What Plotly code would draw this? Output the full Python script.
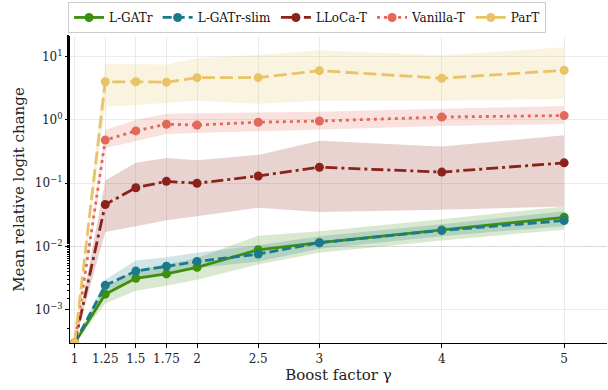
import plotly.graph_objects as go

# Boost factors
gamma = [1, 1.25, 1.5, 1.75, 2, 2.5, 3, 4, 5]

# Mean relative logit change per model, with lower/upper band
lgatr = [3.0e-4, 0.00177, 0.00316, 0.0037, 0.0047, 0.0089, 0.0115, 0.0182, 0.029]
lgatr_lo = [3.0e-4, 0.00126, 0.0020, 0.0024, 0.0030, 0.0052, 0.0080, 0.0125, 0.0185]
lgatr_hi = [3.0e-4, 0.0023, 0.0043, 0.0052, 0.0066, 0.0148, 0.0175, 0.027, 0.043]

slim = [3.0e-4, 0.00244, 0.0041, 0.0049, 0.0058, 0.0076, 0.0115, 0.018, 0.0257]
slim_lo = [3.0e-4, 0.0020, 0.0030, 0.0037, 0.0046, 0.0058, 0.0092, 0.0146, 0.021]
slim_hi = [3.0e-4, 0.0030, 0.0060, 0.0068, 0.0080, 0.0105, 0.0145, 0.0225, 0.036]

lloca = [3.0e-4, 0.046, 0.085, 0.107, 0.100, 0.130, 0.179, 0.150, 0.210]
lloca_lo = [3.0e-4, 0.017, 0.021, 0.026, 0.030, 0.041, 0.035, 0.038, 0.043]
lloca_hi = [3.0e-4, 0.11, 0.21, 0.25, 0.23, 0.28, 0.47, 0.38, 0.57]

vanilla = [3.0e-4, 0.48, 0.67, 0.855, 0.83, 0.92, 0.96, 1.11, 1.17]
vanilla_lo = [3.0e-4, 0.36, 0.46, 0.60, 0.62, 0.66, 0.71, 0.80, 0.86]
vanilla_hi = [3.0e-4, 0.70, 1.00, 1.25, 1.27, 1.30, 1.35, 1.50, 1.66]

part = [3.0e-4, 4.0, 4.0, 3.95, 4.65, 4.65, 6.0, 4.55, 6.08]
part_lo = [3.0e-4, 1.62, 1.72, 1.83, 2.0, 1.8, 2.0, 2.0, 2.15]
part_hi = [3.0e-4, 7.8, 7.6, 7.5, 9.4, 10.6, 12.6, 10.5, 14.0]

xtick_vals = [1, 1.25, 1.5, 1.75, 2, 2.5, 3, 4, 5]
xtick_text = ["1", "1.25", "1.5", "1.75", "2", "2.5", "3", "4", "5"]
ytick_vals = [1e-3, 1e-2, 1e-1, 1, 10]
ytick_text = ["10<sup>−3</sup>", "10<sup>−2</sup>", "10<sup>−1</sup>", "10<sup>0</sup>", "10<sup>1</sup>"]

series = [
    ("L-GATr", lgatr, lgatr_lo, lgatr_hi, (63, 143, 15), "solid"),
    ("L-GATr-slim", slim, slim_lo, slim_hi, (27, 122, 138), "9px,4px"),
    ("LLoCa-T", lloca, lloca_lo, lloca_hi, (139, 35, 27), "12px,4px,3px,4px"),
    ("Vanilla-T", vanilla, vanilla_lo, vanilla_hi, (226, 104, 90), "3px,4px"),
    ("ParT", part, part_lo, part_hi, (232, 196, 102), "13px,5px"),
]

fig = go.Figure()

# uncertainty bands
for name, y, lo, hi, rgb, dash in series:
    fill = "rgba(%d,%d,%d,0.2)" % rgb
    fig.add_trace(go.Scatter(x=gamma, y=hi, mode="lines", line=dict(width=0),
                             showlegend=False, hoverinfo="skip"))
    fig.add_trace(go.Scatter(x=gamma, y=lo, mode="lines", line=dict(width=0),
                             fill="tonexty", fillcolor=fill,
                             showlegend=False, hoverinfo="skip"))

# reference level
fig.add_trace(go.Scatter(x=[0.9, 5.5], y=[0.01, 0.01], mode="lines",
                         line=dict(color="#a8a8a8", width=0.8, dash="1px,2px"),
                         showlegend=False, hoverinfo="skip"))

# mean curves
for name, y, lo, hi, rgb, dash in series:
    col = "rgb(%d,%d,%d)" % rgb
    fig.add_trace(go.Scatter(x=gamma, y=y, mode="lines+markers", name=name,
                             line=dict(color=col, width=2.8, dash=dash),
                             marker=dict(color=col, size=9, symbol="circle")))

font = "DejaVu Serif"
fig.update_layout(
    width=608, height=390,
    margin=dict(l=70, r=1, t=36, b=47),
    plot_bgcolor="white", paper_bgcolor="white",
    font=dict(family=font, size=12, color="#222222"),
    showlegend=True,
    legend=dict(orientation="h", xref="container", yref="container",
                x=0.505, xanchor="center", y=0.995, yanchor="top",
                traceorder="normal",
                bordercolor="#cccccc", borderwidth=1,
                font=dict(family=font, size=12, color="#111111"),
                itemwidth=30, tracegroupgap=0),
)
fig.update_xaxes(
    range=[0.962, 5.35], tickmode="array", tickvals=xtick_vals, ticktext=xtick_text,
    showgrid=True, gridcolor="#ebebeb", gridwidth=1,
    showline=True, linecolor="black", linewidth=1.2,
    ticks="outside", ticklen=4, tickcolor="black",
    tickfont=dict(family=font, size=12, color="#222222"),
    title=dict(text="Boost factor γ", font=dict(family=font, size=15), standoff=3),
    zeroline=False,
)
fig.update_yaxes(
    type="log", range=[-3.523, 1.325], tickmode="array", tickvals=ytick_vals, ticktext=ytick_text,
    showgrid=True, gridcolor="#ebebeb", gridwidth=1,
    showline=True, linecolor="black", linewidth=1.2,
    ticks="outside", ticklen=4, tickcolor="black",
    minor=dict(ticks="outside", ticklen=2, tickcolor="black", showgrid=False),
    tickfont=dict(family=font, size=12, color="#222222"),
    title=dict(text="Mean relative logit change", font=dict(family=font, size=15), standoff=6),
    zeroline=False,
)

fig.write_html("out.html")
